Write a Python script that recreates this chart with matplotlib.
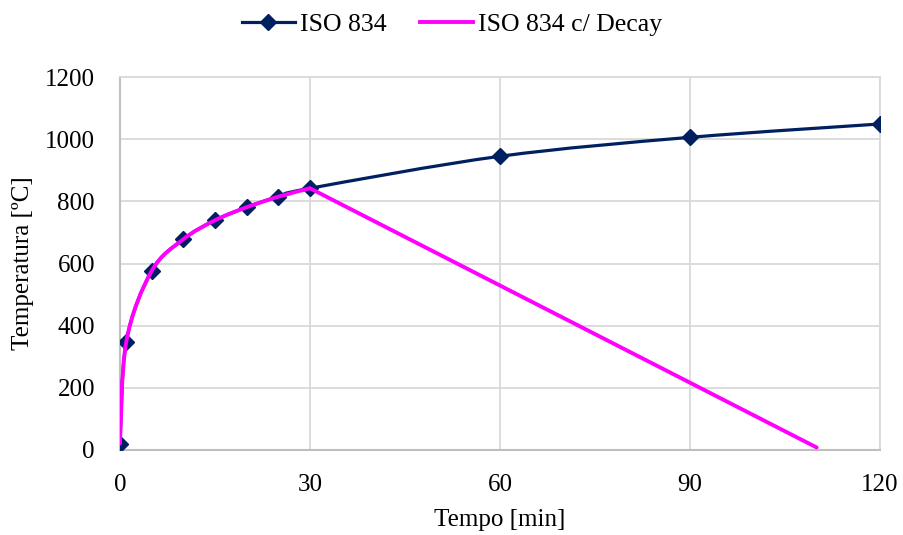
import numpy as np
import matplotlib
matplotlib.use("Agg")
import matplotlib.pyplot as plt
from matplotlib.path import Path
from matplotlib.patches import PathPatch
from matplotlib.lines import Line2D

# values
tempo_iso = [0, 1, 5, 10, 15, 20, 25, 30, 60, 90, 120]
temp_iso = [20, 349, 576, 678, 739, 781, 815, 842, 945, 1006, 1049]
tempo_decay = [0, 1, 5, 10, 15, 20, 25, 30, 110]
temp_decay = [20, 349, 576, 678, 739, 781, 815, 842, 8]
x_ticks = [0, 30, 60, 90, 120]
y_ticks = [0, 200, 400, 600, 800, 1000, 1200]


def smooth_path(xs, ys):
    # Excel-like smoothed line: cubic bezier segments (catmull-rom handles)
    p = np.column_stack([xs, ys]).astype(float)
    n = len(p)
    verts = [p[0]]
    codes = [Path.MOVETO]
    for i in range(n - 1):
        p0 = p[i - 1] if i > 0 else p[i]
        p1 = p[i]
        p2 = p[i + 1]
        p3 = p[i + 2] if i + 2 < n else p[i + 1]
        c1 = p1 + (p2 - p0) / 6.0
        c2 = p2 - (p3 - p1) / 6.0
        verts += [c1, c2, p2]
        codes += [Path.CURVE4] * 3
    return Path(verts, codes)


plt.rcParams['font.family'] = ['Liberation Serif', 'DejaVu Serif']
fs = 18

navy = '#002060'
magenta = '#ff00ff'

fig = plt.figure(figsize=(9.04, 5.35), dpi=100)
ax = fig.add_axes([0.1327, 0.1589, 0.8408, 0.6971])

ax.add_patch(PathPatch(smooth_path(tempo_iso, temp_iso), fill=False,
                       edgecolor=navy, lw=2.3, zorder=3, capstyle='round'))
ax.plot(tempo_iso, temp_iso, linestyle='none', marker='D', markersize=8,
        color=navy, zorder=4)

# decay: smooth up to 30 min, straight line after
ax.add_patch(PathPatch(smooth_path(tempo_decay[:-1], temp_decay[:-1]), fill=False,
                       edgecolor=magenta, lw=2.8, zorder=5, capstyle='round'))
ax.plot(tempo_decay[-2:], temp_decay[-2:], color=magenta, lw=2.8, zorder=5,
        solid_capstyle='round')

ax.set_xlim(0, 120)
ax.set_ylim(0, 1200)
ax.set_xticks(x_ticks)
ax.set_yticks(y_ticks)
ax.grid(True, color='#d9d9d9', lw=1.3, zorder=0)
ax.set_axisbelow(True)
for s in ['top', 'right']:
    ax.spines[s].set_color('#d9d9d9')
    ax.spines[s].set_linewidth(1.3)
for s in ['left', 'bottom']:
    ax.spines[s].set_color('#bfbfbf')
    ax.spines[s].set_linewidth(1.5)
ax.tick_params(length=0, labelsize=fs, colors='black')
ax.tick_params(axis='x', pad=17)
ax.tick_params(axis='y', pad=18)
ax.set_xlabel('Tempo [min]', fontsize=fs, labelpad=10)
ax.set_ylabel('Temperatura [ºC]', fontsize=fs, labelpad=8)

handles = [Line2D([], [], color=navy, lw=2.3, marker='D', markersize=8),
           Line2D([], [], color=magenta, lw=2.8)]
fig.legend(handles, ['ISO 834', 'ISO 834 c/ Decay'], loc='center',
           bbox_to_anchor=(0.5, 0.955), ncol=2, frameon=False, fontsize=18.5,
           handlelength=2.05, handletextpad=0.2, columnspacing=1.3)

fig.savefig('out.png', dpi=100)
